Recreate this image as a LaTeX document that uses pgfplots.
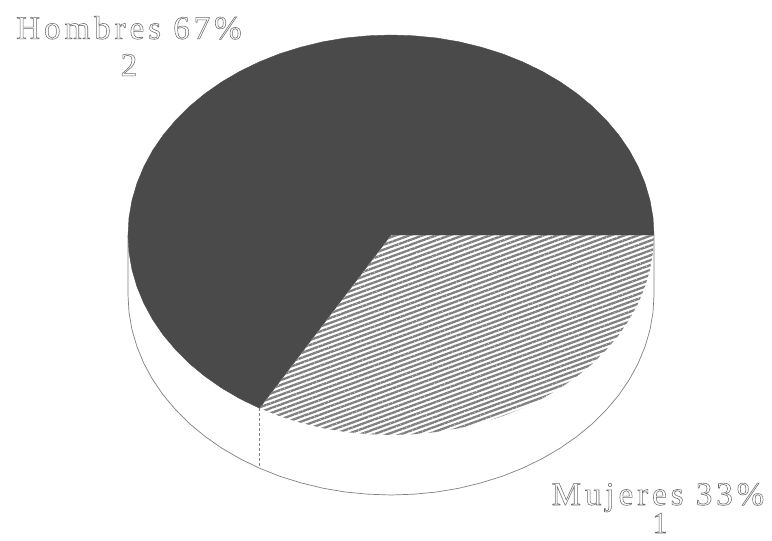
\documentclass[border=0pt]{standalone}
\usepackage{pgfplots}
\pgfplotsset{compat=1.18}
\usepackage{fontspec}
\setmainfont{Liberation Serif}
\usetikzlibrary{patterns.meta}
\newfontfamily\labelfont[LetterSpace=12]{Liberation Serif}
\newcommand{\hollow}[1]{\special{pdf:code 1 Tr 0.55 w}#1\special{pdf:code 0 Tr}}
\definecolor{piedark}{gray}{0.29}
\definecolor{pieline}{gray}{0.5}
\definecolor{labelgray}{gray}{0.42}
\begin{document}
\begin{tikzpicture}
\begin{axis}[
    scale only axis,
    width=772pt,
    height=541pt,
    xmin=0, xmax=772,
    ymin=0, ymax=541,
    y dir=reverse,
    hide axis,
    clip=false
]
\path (axis cs:0,0) rectangle (axis cs:772,541);
% side wall, lower rim of the disc
\addplot[pieline, line width=0.7pt] coordinates {
    (654,235) (654,295) (653,312.4) (650,329.7) (645,346.8) (638.1,363.4) (629.4,379.5)
    (618.8,395) (606.4,409.7) (592.5,423.6) (577,436.4) (560.1,448.2) (541.9,458.8)
    (522.5,468.2) (502.1,476.3) (480.9,482.9) (459.1,488.2) (436.7,492) (413.9,494.2)
    (391,495) (368.1,494.2) (345.3,492) (322.9,488.2) (301.1,482.9) (279.9,476.3)
    (259.5,468.2) (240.1,458.8) (221.9,448.2) (205,436.4) (189.5,423.6) (175.6,409.7)
    (163.2,395) (152.6,379.5) (143.9,363.4) (137,346.8) (132,329.7) (129,312.4)
    (128,295) (128,235)
};
\addplot[pieline, line width=0.7pt, densely dashed] coordinates {(259,408.2) (259,468.2)};
% Hombres 67
\addplot[fill=piedark, draw=piedark, line width=0.4pt] coordinates {
    (391,235) (259.5,408.2) (240.1,398.8) (221.9,388.2) (205,376.4) (189.5,363.6)
    (175.6,349.7) (163.2,335) (152.6,319.5) (143.9,303.4) (137,286.8) (132,269.7)
    (129,252.4) (128,235) (129,217.6) (132,200.3) (137,183.2) (143.9,166.6) (152.6,150.5)
    (163.2,135) (175.6,120.3) (189.5,106.4) (205,93.6) (221.9,81.8) (240.1,71.2)
    (259.5,61.8) (279.9,53.7) (301.1,47.1) (322.9,41.8) (345.3,38) (368.1,35.8) (391,35)
    (413.9,35.8) (436.7,38) (459.1,41.8) (480.9,47.1) (502.1,53.7) (522.5,61.8)
    (541.9,71.2) (560.1,81.8) (577,93.6) (592.5,106.4) (606.4,120.3) (618.8,135)
    (629.4,150.5) (638.1,166.6) (645,183.2) (650,200.3) (653,217.6) (654,235)
} -- cycle;
% Mujeres 33
\addplot[draw=none, pattern={Lines[angle=20,distance=4.6pt,line width=2.3pt]}, pattern color=black!50] coordinates {
    (391,235) (654,235) (653,252.4) (650,269.7) (645,286.8) (638.1,303.4) (629.4,319.5)
    (618.8,335) (606.4,349.7) (592.5,363.6) (577,376.4) (560.1,388.2) (541.9,398.8)
    (522.5,408.2) (502.1,416.3) (480.9,422.9) (459.1,428.2) (436.7,432) (413.9,434.2)
    (391,435) (368.1,434.2) (345.3,432) (322.9,428.2) (301.1,422.9) (279.9,416.3)
    (259.5,408.2)
} -- cycle;
\node[labelgray, align=center, font=\labelfont\fontsize{33}{37}\selectfont] at (axis cs:129,46) {\hollow{Hombres 67\%}\\\hollow{2}};
\node[labelgray, anchor=base, inner sep=0pt, font=\labelfont\fontsize{33}{36}\selectfont] at (axis cs:658,505) {\hollow{Mujeres 33\%}};
\node[labelgray, anchor=base, inner sep=0pt, font=\labelfont\fontsize{30}{32}\selectfont] at (axis cs:660,533) {\hollow{1}};
\end{axis}
\end{tikzpicture}
\end{document}
